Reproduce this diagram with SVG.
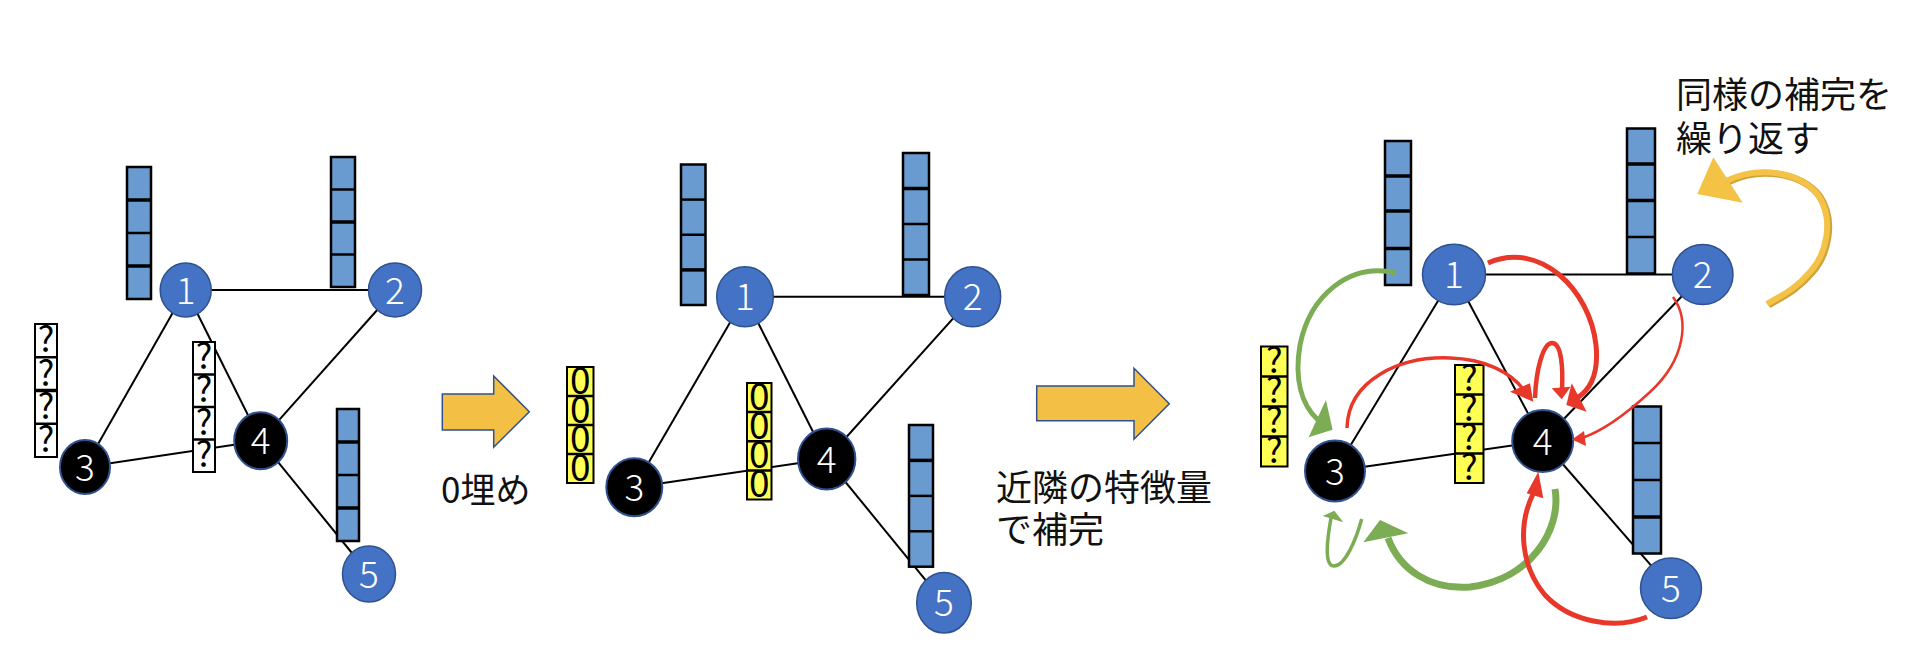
<svg xmlns="http://www.w3.org/2000/svg" width="1910" height="658" viewBox="0 0 1910 658">
<style>
.edge{stroke:#000;stroke-width:2;fill:none}
.bn{fill:#4472C4;stroke:#2F528F;stroke-width:1.5}
.kn{fill:#000;stroke:#2F528F;stroke-width:2}
.lbl{font-family:"Noto Sans CJK JP","Noto Sans",sans-serif;font-size:37px;font-weight:300;fill:#fff;text-anchor:middle}
.vb{fill:#6A9BD0;stroke:#000;stroke-width:2.5}
.vw{fill:#fff;stroke:#000;stroke-width:2}
.vy{fill:#FFFF55;stroke:#000;stroke-width:2}
.dv{stroke:#000;stroke-width:2.5}
.dt{stroke:#000;stroke-width:3.5}
.q{font-family:"Noto Sans CJK JP","Noto Sans",sans-serif;font-size:35px;fill:#000;text-anchor:middle}
.z{font-family:"Noto Sans CJK JP","Noto Sans",sans-serif;font-size:37px;fill:#000;text-anchor:middle}
.txt{font-family:"Noto Sans CJK JP","Noto Sans",sans-serif;font-size:36px;fill:#111}
.blk{fill:#F3BF44;stroke:#2F528F;stroke-width:1.5}
.rc{fill:none;stroke:#E8382A;stroke-linecap:butt}
.gc{fill:none;stroke:#7CAC53;stroke-linecap:butt}
.rh{fill:#E8382A}
.gh{fill:#7CAC53}
.ocd{fill:none;stroke:#CFA23A;stroke-width:7}
.oc{fill:none;stroke:#F3C246;stroke-width:6}
.oh{fill:#F4C244}
</style>

<!-- connectors (graph edges) -->
<g id="connectors">
  <line class="edge" x1="185.7" y1="290" x2="395" y2="290"/>
  <line class="edge" x1="185.7" y1="290" x2="85" y2="467"/>
  <line class="edge" x1="185.7" y1="290" x2="260.7" y2="440.7"/>
  <line class="edge" x1="395" y1="290" x2="260.7" y2="440.7"/>
  <line class="edge" x1="85" y1="467" x2="260.7" y2="440.7"/>
  <line class="edge" x1="260.7" y1="440.7" x2="369" y2="574"/>

  <line class="edge" x1="745" y1="296.7" x2="972.7" y2="296.7"/>
  <line class="edge" x1="745" y1="296.7" x2="634.3" y2="487.3"/>
  <line class="edge" x1="745" y1="296.7" x2="826.7" y2="459"/>
  <line class="edge" x1="972.7" y1="296.7" x2="826.7" y2="459"/>
  <line class="edge" x1="634.3" y1="487.3" x2="826.7" y2="459"/>
  <line class="edge" x1="826.7" y1="459" x2="944" y2="602.7"/>

  <line class="edge" x1="1454" y1="274.5" x2="1702.7" y2="274.5"/>
  <line class="edge" x1="1454" y1="274.5" x2="1335" y2="471"/>
  <line class="edge" x1="1454" y1="274.5" x2="1542.7" y2="441"/>
  <line class="edge" x1="1702.7" y1="274.5" x2="1542.7" y2="441"/>
  <line class="edge" x1="1335" y1="471" x2="1542.7" y2="441"/>
  <line class="edge" x1="1542.7" y1="441" x2="1671" y2="588.3"/>
</g>

<!-- feature vectors -->
<g id="vectors-panel1">
  <g id="p1-v1"><rect class="vb" x="127" y="167" width="24" height="132"/><line class="dt" x1="127" y1="200" x2="151" y2="200"/><line class="dv" x1="127" y1="233" x2="151" y2="233"/><line class="dt" x1="127" y1="266" x2="151" y2="266"/></g>
  <g id="p1-v2"><rect class="vb" x="331" y="157" width="24" height="130"/><line class="dv" x1="331" y1="189.5" x2="355" y2="189.5"/><line class="dt" x1="331" y1="222" x2="355" y2="222"/><line class="dv" x1="331" y1="254.5" x2="355" y2="254.5"/></g>
  <g id="p1-v3">
    <rect class="vw" x="35" y="324" width="22" height="133"/>
    <line class="dv" x1="35" y1="357.25" x2="57" y2="357.25"/><line class="dt" x1="35" y1="390.5" x2="57" y2="390.5"/><line class="dv" x1="35" y1="423.75" x2="57" y2="423.75"/>
    <text class="q"><tspan x="46" y="352">?</tspan><tspan x="46" y="385.5">?</tspan><tspan x="46" y="418.5">?</tspan><tspan x="46" y="452">?</tspan></text>
  </g>
  <g id="p1-v4">
    <rect class="vw" x="193" y="342" width="22" height="130"/>
    <line class="dv" x1="193" y1="374.5" x2="215" y2="374.5"/><line class="dv" x1="193" y1="407" x2="215" y2="407"/><line class="dv" x1="193" y1="439.5" x2="215" y2="439.5"/>
    <text class="q"><tspan x="204" y="369">?</tspan><tspan x="204" y="402">?</tspan><tspan x="204" y="434.5">?</tspan><tspan x="204" y="467">?</tspan></text>
  </g>
  <g id="p1-v5"><rect class="vb" x="337" y="409" width="22" height="132"/><line class="dt" x1="337" y1="442" x2="359" y2="442"/><line class="dv" x1="337" y1="475" x2="359" y2="475"/><line class="dt" x1="337" y1="508" x2="359" y2="508"/></g>
</g>

<g id="vectors-panel2">
  <g id="p2-v1"><rect class="vb" x="681" y="164.5" width="24.5" height="140.5"/><line class="dv" x1="681" y1="199.6" x2="705.5" y2="199.6"/><line class="dv" x1="681" y1="234.75" x2="705.5" y2="234.75"/><line class="dt" x1="681" y1="269.9" x2="705.5" y2="269.9"/></g>
  <g id="p2-v2"><rect class="vb" x="903" y="153" width="26" height="142"/><line class="dt" x1="903" y1="188.5" x2="929" y2="188.5"/><line class="dv" x1="903" y1="224" x2="929" y2="224"/><line class="dv" x1="903" y1="259.5" x2="929" y2="259.5"/></g>
  <g id="p2-v3">
    <rect class="vy" x="567" y="367" width="26.5" height="116"/>
    <line class="dv" x1="567" y1="396" x2="593.5" y2="396"/><line class="dv" x1="567" y1="425" x2="593.5" y2="425"/><line class="dv" x1="567" y1="454" x2="593.5" y2="454"/>
    <text class="z"><tspan x="580.2" y="393.5">0</tspan><tspan x="580.2" y="422.5">0</tspan><tspan x="580.2" y="451.5">0</tspan><tspan x="580.2" y="480.5">0</tspan></text>
  </g>
  <g id="p2-v4">
    <rect class="vy" x="747" y="383" width="24.5" height="116.5"/>
    <line class="dv" x1="747" y1="412" x2="771.5" y2="412"/><line class="dv" x1="747" y1="441.25" x2="771.5" y2="441.25"/><line class="dv" x1="747" y1="470.5" x2="771.5" y2="470.5"/>
    <text class="z"><tspan x="759.2" y="409.5">0</tspan><tspan x="759.2" y="438.8">0</tspan><tspan x="759.2" y="468">0</tspan><tspan x="759.2" y="497">0</tspan></text>
  </g>
  <g id="p2-v5"><rect class="vb" x="909" y="425" width="24" height="141.7"/><line class="dt" x1="909" y1="460.4" x2="933" y2="460.4"/><line class="dv" x1="909" y1="495.9" x2="933" y2="495.9"/><line class="dv" x1="909" y1="531.3" x2="933" y2="531.3"/></g>
</g>

<g id="vectors-panel3">
  <g id="p3-v1"><rect class="vb" x="1385" y="141" width="26" height="144"/><line class="dt" x1="1385" y1="176" x2="1411" y2="176"/><line class="dt" x1="1385" y1="211" x2="1411" y2="211"/><line class="dt" x1="1385" y1="248.5" x2="1411" y2="248.5"/></g>
  <g id="p3-v2"><rect class="vb" x="1627" y="128.5" width="28" height="145"/><line class="dt" x1="1627" y1="164" x2="1655" y2="164"/><line class="dt" x1="1627" y1="200.5" x2="1655" y2="200.5"/><line class="dv" x1="1627" y1="237" x2="1655" y2="237"/></g>
  <g id="p3-v3">
    <rect class="vy" x="1261" y="346.5" width="26.5" height="120"/>
    <line class="dv" x1="1261" y1="376.5" x2="1287.5" y2="376.5"/><line class="dv" x1="1261" y1="406.5" x2="1287.5" y2="406.5"/><line class="dv" x1="1261" y1="436.5" x2="1287.5" y2="436.5"/>
    <text class="q"><tspan x="1274.2" y="373">?</tspan><tspan x="1274.2" y="403">?</tspan><tspan x="1274.2" y="433">?</tspan><tspan x="1274.2" y="463">?</tspan></text>
  </g>
  <g id="p3-v4">
    <rect class="vy" x="1455" y="365" width="28.5" height="118"/>
    <line class="dv" x1="1455" y1="394.5" x2="1483.5" y2="394.5"/><line class="dv" x1="1455" y1="424" x2="1483.5" y2="424"/><line class="dv" x1="1455" y1="453.5" x2="1483.5" y2="453.5"/>
    <text class="q"><tspan x="1469.2" y="391">?</tspan><tspan x="1469.2" y="420.5">?</tspan><tspan x="1469.2" y="450">?</tspan><tspan x="1469.2" y="479.5">?</tspan></text>
  </g>
  <g id="p3-v5"><rect class="vb" x="1633" y="406.5" width="28" height="147"/><line class="dv" x1="1633" y1="443" x2="1661" y2="443"/><line class="dv" x1="1633" y1="480" x2="1661" y2="480"/><line class="dt" x1="1633" y1="517" x2="1661" y2="517"/></g>
</g>

<!-- nodes panel 1 -->
<g id="p1-n1"><ellipse class="bn" cx="185.7" cy="290" rx="25.5" ry="27"/><text class="lbl" x="185.7" y="303.5">1</text></g>
<g id="p1-n2"><ellipse class="bn" cx="395" cy="290" rx="26.5" ry="27"/><text class="lbl" x="395" y="303.5">2</text></g>
<g id="p1-n3"><ellipse class="kn" cx="85" cy="467" rx="25" ry="27"/><text class="lbl" x="85" y="480.5">3</text></g>
<g id="p1-n4"><ellipse class="kn" cx="260.7" cy="440.7" rx="26.5" ry="28.5"/><text class="lbl" x="260.7" y="454.2">4</text></g>
<g id="p1-n5"><ellipse class="bn" cx="369" cy="574" rx="26.5" ry="28"/><text class="lbl" x="369" y="587.5">5</text></g>

<!-- nodes panel 2 -->
<g id="p2-n1"><ellipse class="bn" cx="745" cy="296.7" rx="28.3" ry="30"/><text class="lbl" x="745" y="310.2">1</text></g>
<g id="p2-n2"><ellipse class="bn" cx="972.7" cy="296.7" rx="28" ry="30"/><text class="lbl" x="972.7" y="310.2">2</text></g>
<g id="p2-n3"><ellipse class="kn" cx="634.3" cy="487.3" rx="28" ry="29"/><text class="lbl" x="634.3" y="500.8">3</text></g>
<g id="p2-n4"><ellipse class="kn" cx="826.7" cy="459" rx="28.7" ry="30.5"/><text class="lbl" x="826.7" y="472.5">4</text></g>
<g id="p2-n5"><ellipse class="bn" cx="944" cy="602.7" rx="27.3" ry="30.3"/><text class="lbl" x="944" y="616.2">5</text></g>

<!-- nodes panel 3 -->
<g id="p3-n1"><ellipse class="bn" cx="1454" cy="274.5" rx="31.5" ry="30.3"/><text class="lbl" x="1454" y="288">1</text></g>
<g id="p3-n2"><ellipse class="bn" cx="1702.7" cy="274.5" rx="30.3" ry="30"/><text class="lbl" x="1702.7" y="288">2</text></g>
<g id="p3-n3"><ellipse class="kn" cx="1335" cy="471" rx="30" ry="30.5"/><text class="lbl" x="1335" y="484.5">3</text></g>
<g id="p3-n4"><ellipse class="kn" cx="1542.7" cy="441" rx="30.5" ry="31"/><text class="lbl" x="1542.7" y="454.5">4</text></g>
<g id="p3-n5"><ellipse class="bn" cx="1671" cy="588.3" rx="30.5" ry="30.3"/><text class="lbl" x="1671" y="601.8">5</text></g>

<!-- block arrows -->
<g id="step-arrow-1"><polygon class="blk" points="442.3,394 493.7,394 493.7,376 529.3,411.7 493.7,447.3 493.7,430 442.3,430"/></g>
<g id="step-arrow-2"><polygon class="blk" points="1036.7,386 1134,386 1134,368.3 1169.3,403.8 1134,439.3 1134,420.7 1036.7,420.7"/></g>

<!-- captions -->
<g id="caption-1"><text class="txt" x="441" y="503" style="font-size:35px">0埋め</text></g>
<g id="caption-2"><text class="txt" x="996" y="501">近隣の特徴量</text><text class="txt" x="996" y="543">で補完</text></g>
<g id="caption-3"><text class="txt" x="1676" y="108">同様の補完を</text><text class="txt" x="1676" y="152">繰り返す</text></g>

<!-- message-passing arrows -->
<g id="flow-arrows">
  <path class="gc" stroke-width="5" d="M1396,273 C1350,262 1310,295 1300,345 C1294,380 1302,405 1318,420"/>
  <polygon class="gh" points="1308.6,437.2 1332.6,429.8 1325.9,400.1"/>
  <path class="gc" stroke-width="7" d="M1555,489 C1562,530 1530,580 1470,587 C1430,590 1400,570 1388,538"/>
  <polygon class="gh" points="1363.3,542.3 1380,520 1408.3,533.3"/>
  <path class="gc" stroke-width="3.5" d="M1361.7,519 C1356,540 1345,566 1334,566 C1324,566 1327,540 1331,518"/>
  <polygon class="gh" points="1322.7,516 1334.3,510.7 1343.3,522.3"/>

  <path class="rc" stroke-width="5" d="M1488,263 C1540,240 1590,290 1596,345 C1599,375 1590,390 1577,398"/>
  <polygon class="rh" points="1571.7,383.3 1586.7,411.7 1566.3,405"/>
  <path class="rc" stroke-width="4.5" d="M1535,398 C1536,370 1543,343 1552,343 C1562,343 1563,370 1562,390"/>
  <polygon class="rh" points="1551.7,388.3 1570.7,386.7 1561.7,399.3"/>
  <path class="rc" stroke-width="3.5" d="M1347,428 C1348,380 1400,356 1450,358 C1485,359 1510,372 1524,390"/>
  <polygon class="rh" points="1510,391.7 1533.3,401.7 1530,383.3"/>
  <path class="rc" stroke-width="2.5" d="M1673,297 C1690,320 1685,360 1650,392 C1625,415 1600,432 1582,438"/>
  <polygon class="rh" points="1584,431 1572,439.5 1586,446"/>
  <path class="rc" stroke-width="5" d="M1647,617 C1615,630 1570,622 1545,595 C1520,565 1518,525 1533,494"/>
  <polygon class="rh" points="1526.7,493.3 1538.3,471.7 1543.3,498.3"/>
</g>

<!-- repeat arrow -->
<g id="repeat-arrow">
  <path class="ocd" transform="translate(1.5,1)" d="M1726,181 C1760,165 1800,172 1818,195 C1835,220 1826,255 1810,272 C1795,290 1780,296 1767,304"/>
  <path class="oc" d="M1726,181 C1760,165 1800,172 1818,195 C1835,220 1826,255 1810,272 C1795,290 1780,296 1767,304"/>
  <polygon class="oh" points="1713.3,157.3 1697.3,194 1742.7,202.7"/>
</g>
</svg>
